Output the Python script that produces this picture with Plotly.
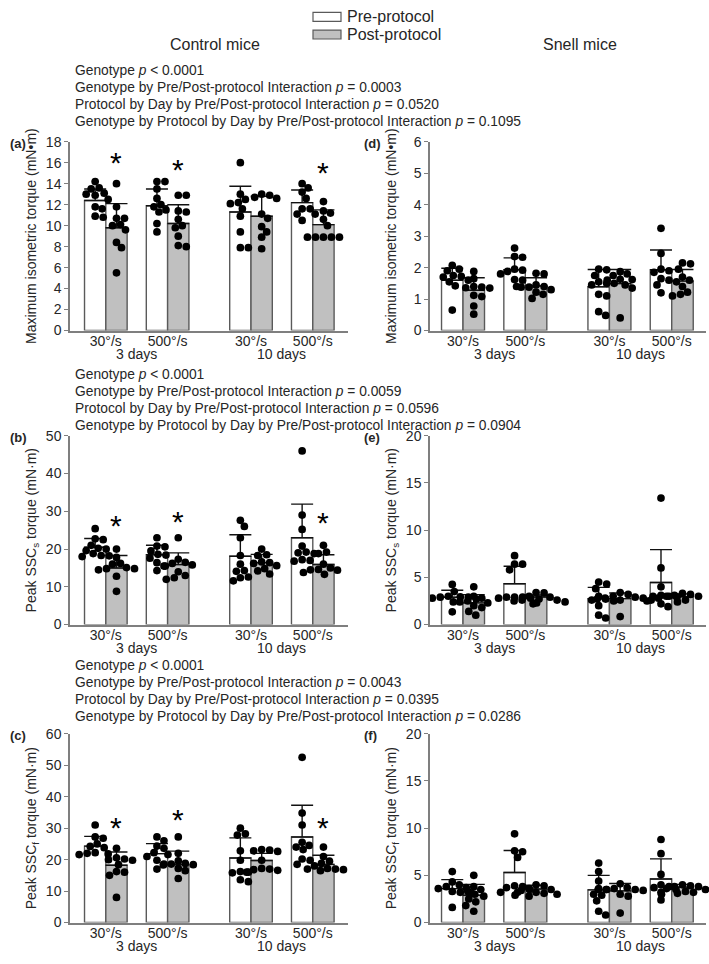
import plotly.graph_objects as go

W, H = 709, 964
FONT = "Liberation Sans, Arial, sans-serif"
TXT = "#262626"
AXC = "#7f7f7f"
EDGE = "#5a5a5a"
GREY = "#c0c0c0"

# ---------------- categories ----------------
positions = [1.0, 2.0, 3.35, 4.35]
speed_labels = ["30°/s", "500°/s", "30°/s", "500°/s"]
day_labels = ["3 days", "10 days"]
day_centers = [1.5, 3.85]
legend_labels = ["Pre-protocol", "Post-protocol"]
column_titles = ["Control mice", "Snell mice"]

# ---------------- panel (a) Control, max isometric torque ----------------
a_pre_mean = [12.4, 11.9, 11.3, 12.2]
a_pre_sd = [1.1, 1.6, 2.45, 1.2]
a_post_mean = [9.8, 10.2, 10.9, 10.1]
a_post_sd = [2.3, 1.8, 1.9, 1.4]
a_pre_pts = [[14.2, 13.6, 13.5, 13.1, 13.0, 12.9, 12.5, 11.8, 11.6, 10.9, 10.8],
             [14.2, 14.2, 13.5, 12.6, 12.0, 11.8, 11.5, 11.3, 10.2, 9.4],
             [16.0, 13.0, 12.5, 12.2, 12.1, 11.6, 10.9, 9.4, 7.9, 7.9],
             [14.0, 13.6, 13.2, 12.6, 11.6, 11.6, 11.1, 11.1, 10.5]]
a_post_pts = [[14.0, 11.8, 10.7, 10.7, 10.1, 10.0, 9.6, 8.4, 7.9, 5.5],
              [12.9, 12.9, 11.4, 11.3, 10.6, 10.0, 9.8, 9.0, 8.1, 8.0],
              [13.0, 12.9, 12.7, 12.6, 11.1, 10.7, 9.9, 9.4, 8.9, 7.8],
              [12.3, 11.4, 11.2, 10.6, 10.0, 8.9, 8.9, 8.9, 8.9, 8.9]]
a_star = [16.3, 15.6, None, 15.4]

# ---------------- panel (d) Snell, max isometric torque ----------------
d_pre_mean = [1.6, 1.93, 1.39, 1.93]
d_pre_sd = [0.38, 0.38, 0.55, 0.63]
d_post_mean = [1.28, 1.42, 1.49, 1.57]
d_post_sd = [0.4, 0.26, 0.45, 0.37]
d_pre_pts = [[2.07, 1.95, 1.9, 1.75, 1.72, 1.7, 1.6, 1.55, 1.42, 0.65],
             [2.62, 2.35, 2.33, 1.95, 1.92, 1.88, 1.8, 1.62, 1.6, 1.4],
             [1.95, 1.93, 1.75, 1.55, 1.5, 1.45, 1.15, 1.1, 0.6, 0.48],
             [3.25, 2.45, 1.95, 1.9, 1.85, 1.65, 1.6, 1.45, 1.2]]
d_post_pts = [[1.88, 1.65, 1.4, 1.38, 1.36, 1.35, 1.12, 1.08, 0.78, 0.52],
              [1.82, 1.8, 1.45, 1.4, 1.38, 1.38, 1.3, 1.22, 1.15, 1.02],
              [1.87, 1.8, 1.75, 1.63, 1.62, 1.6, 1.5, 1.45, 1.35, 0.4],
              [2.15, 2.12, 1.95, 1.7, 1.6, 1.55, 1.4, 1.22, 1.15, 1.1]]
d_star = [None, None, None, None]

# ---------------- panel (b) Control, peak SSCs torque ----------------
b_pre_mean = [20.5, 18.5, 18.1, 23.0]
b_pre_sd = [2.3, 2.5, 5.7, 8.9]
b_post_mean = [15.0, 15.9, 16.4, 15.9]
b_post_sd = [3.3, 3.1, 2.2, 2.6]
b_pre_pts = [[25.4, 22.7, 22.5, 21.0, 20.2, 20.0, 19.6, 18.8, 18.3, 18.2, 18.0],
             [23.0, 20.8, 20.6, 19.5, 18.6, 18.4, 17.6, 16.4, 15.5, 14.3],
             [27.6, 26.0, 23.0, 18.3, 16.0, 14.3, 14.1, 12.6, 12.4, 11.6],
             [46.0, 29.0, 25.2, 20.8, 19.2, 19.0, 18.8, 17.2, 17.0, 16.8]]
b_post_pts = [[20.0, 17.8, 16.2, 16.0, 15.1, 14.8, 14.8, 14.5, 12.8, 8.8],
              [23.0, 17.3, 16.5, 16.2, 15.8, 15.5, 14.0, 13.0, 12.4, 12.0],
              [20.0, 18.5, 18.3, 16.6, 16.4, 16.2, 15.6, 14.8, 14.2, 13.4],
              [21.0, 19.2, 18.8, 16.0, 15.0, 14.6, 14.5, 14.4, 13.8, 13.3]]
b_star = [27.0, 28.1, None, 27.9]

# ---------------- panel (e) Snell, peak SSCs torque ----------------
e_pre_mean = [2.9, 4.32, 2.73, 4.46]
e_pre_sd = [0.73, 1.86, 1.21, 3.48]
e_post_mean = [2.3, 2.93, 2.75, 2.95]
e_post_sd = [0.87, 0.2, 0.6, 0.3]
e_pre_pts = [[4.25, 3.5, 3.0, 2.95, 2.9, 2.9, 2.8, 2.7, 2.4, 1.35],
             [7.3, 6.4, 6.4, 5.8, 2.9, 2.9, 2.9, 2.8, 2.8, 2.3],
             [4.5, 4.3, 3.8, 3.0, 2.7, 2.6, 2.5, 2.0, 1.0, 0.7],
             [13.4, 6.0, 4.0, 3.1, 3.0, 3.0, 2.9, 2.5, 2.2, 1.9]]
e_post_pts = [[4.0, 3.0, 2.8, 2.5, 2.4, 2.3, 2.0, 1.8, 1.4, 1.0],
              [3.4, 3.35, 3.0, 2.9, 2.7, 2.6, 2.6, 2.5, 2.4, 2.2],
              [3.4, 3.2, 3.0, 2.9, 2.8, 2.8, 2.7, 2.6, 2.6, 0.85],
              [3.3, 3.2, 3.1, 3.0, 3.0, 2.9, 2.8, 2.6, 2.5, 2.4]]
e_star = [None, None, None, None]

# ---------------- panel (c) Control, peak SSCf torque ----------------
c_pre_mean = [24.3, 21.9, 20.5, 27.2]
c_pre_sd = [3.1, 3.2, 6.4, 10.1]
c_post_mean = [18.2, 18.4, 19.7, 18.5]
c_post_sd = [4.2, 4.3, 2.3, 2.9]
c_pre_pts = [[31.0, 27.2, 26.8, 25.0, 24.2, 23.8, 22.2, 22.0, 21.8, 21.6],
             [27.2, 26.0, 24.3, 23.6, 22.2, 21.6, 21.0, 19.8, 18.6, 17.0],
             [30.0, 28.2, 27.8, 22.8, 19.8, 16.2, 16.0, 15.8, 13.6, 13.0],
             [52.5, 34.8, 31.0, 25.5, 24.5, 24.0, 23.2, 20.2, 19.8, 18.5]]
c_post_pts = [[23.6, 20.6, 20.2, 20.0, 19.8, 18.4, 16.2, 16.0, 15.0, 8.0],
              [27.2, 22.0, 19.6, 18.8, 18.6, 18.4, 18.3, 17.2, 16.5, 14.0],
              [23.2, 23.0, 22.8, 22.6, 19.8, 17.2, 17.0, 16.8, 16.6, 16.0],
              [24.0, 21.0, 19.5, 18.8, 18.0, 17.2, 17.0, 17.0, 16.8, 16.5]]
c_star = [31.3, 33.6, None, 31.3]

# ---------------- panel (f) Snell, peak SSCf torque ----------------
f_pre_mean = [3.6, 5.3, 3.46, 4.62]
f_pre_sd = [0.95, 2.33, 1.54, 2.13]
f_post_mean = [2.9, 3.55, 3.36, 3.75]
f_post_sd = [1.14, 0.4, 0.78, 0.3]
f_pre_pts = [[5.4, 4.3, 4.0, 3.8, 3.7, 3.6, 3.3, 3.2, 3.1, 1.6],
             [9.4, 7.6, 7.5, 6.9, 3.9, 3.8, 3.7, 3.5, 3.2, 3.2],
             [6.3, 5.4, 4.4, 3.6, 3.5, 3.0, 2.9, 2.3, 1.2, 0.8],
             [8.8, 7.3, 5.1, 4.0, 3.8, 3.7, 3.5, 3.2, 2.4]]
f_post_pts = [[5.0, 3.8, 3.5, 3.3, 3.0, 2.8, 2.5, 2.2, 1.8, 1.2],
              [4.0, 3.9, 3.6, 3.5, 3.4, 3.2, 3.1, 3.0, 2.9, 2.8],
              [4.1, 3.7, 3.6, 3.5, 3.5, 3.5, 3.4, 3.0, 2.8, 1.0],
              [4.0, 3.9, 3.8, 3.8, 3.6, 3.5, 3.3, 3.2, 3.1, 3.0]]
f_star = [None, None, None, None]

y_titles = {
    "a": "Maximum isometric torque (mN•m)",
    "d": "Maximum isometric torque (mN•m)",
    "b": "Peak SSC<sub>s</sub> torque (mN·m)",
    "e": "Peak SSC<sub>s</sub> torque (mN·m)",
    "c": "Peak SSC<sub>f</sub> torque (mN·m)",
    "f": "Peak SSC<sub>f</sub> torque (mN·m)",
}
y_max = {"a": 18, "d": 6, "b": 50, "e": 20, "c": 60, "f": 20}
y_dtick = {"a": 2, "d": 1, "b": 10, "e": 5, "c": 10, "f": 5}

stats_1 = ["Genotype <i>p</i> &lt; 0.0001",
           "Genotype by Pre/Post-protocol Interaction <i>p</i> = 0.0003",
           "Protocol by Day by Pre/Post-protocol Interaction <i>p</i> = 0.0520",
           "Genotype by Protocol by Day by Pre/Post-protocol Interaction <i>p</i> = 0.1095"]
stats_2 = ["Genotype <i>p</i> &lt; 0.0001",
           "Genotype by Pre/Post-protocol Interaction <i>p</i> = 0.0059",
           "Protocol by Day by Pre/Post-protocol Interaction <i>p</i> = 0.0596",
           "Genotype by Protocol by Day by Pre/Post-protocol Interaction <i>p</i> = 0.0904"]
stats_3 = ["Genotype <i>p</i> &lt; 0.0001",
           "Genotype by Pre/Post-protocol Interaction <i>p</i> = 0.0043",
           "Protocol by Day by Pre/Post-protocol Interaction <i>p</i> = 0.0395",
           "Genotype by Protocol by Day by Pre/Post-protocol Interaction <i>p</i> = 0.0286"]

panels = {
    "a": (a_pre_mean, a_pre_sd, a_post_mean, a_post_sd, a_pre_pts, a_post_pts, a_star),
    "d": (d_pre_mean, d_pre_sd, d_post_mean, d_post_sd, d_pre_pts, d_post_pts, d_star),
    "b": (b_pre_mean, b_pre_sd, b_post_mean, b_post_sd, b_pre_pts, b_post_pts, b_star),
    "e": (e_pre_mean, e_pre_sd, e_post_mean, e_post_sd, e_pre_pts, e_post_pts, e_star),
    "c": (c_pre_mean, c_pre_sd, c_post_mean, c_post_sd, c_pre_pts, c_post_pts, c_star),
    "f": (f_pre_mean, f_pre_sd, f_post_mean, f_post_sd, f_pre_pts, f_post_pts, f_star),
}

# ---------------- layout geometry (window pixels) ----------------
col_px = {"L": (70, 348), "R": (430, 706)}
col_range = {"L": (0.42, 4.92), "R": (0.47, 4.90)}
row_px = [(136, 328), (435, 627), (738, 930)]
panel_grid = {"a": ("L", 0), "d": ("R", 0), "b": ("L", 1), "e": ("R", 1), "c": ("L", 2), "f": ("R", 2)}
stats_rows = [(stats_1, 64), (stats_2, 373), (stats_3, 669)]
BW = 0.345


def px_x(p):
    return p / W


def px_y(p):
    return 1 - p / H


def swarm(values, xppu, yppu, dot=7.3, step=1.0):
    order = sorted(range(len(values)), key=lambda i: -values[i])
    placed = []
    offs = [0.0] * len(values)
    for i in order:
        y = values[i] * yppu
        k = 0
        found = None
        while found is None:
            cands = [0.0] if k == 0 else [k * step, -k * step]
            for c in cands:
                if all((c - px) ** 2 + (y - py) ** 2 >= dot ** 2 for px, py in placed):
                    found = c
                    break
            k += 1
        placed.append((found, y))
        offs[i] = found / xppu
    return offs


fig = go.Figure()
layout_axes = {}
annotations = []

for idx, key in enumerate(["a", "d", "b", "e", "c", "f"]):
    n = idx + 1
    xa = "x" if n == 1 else f"x{n}"
    ya = "y" if n == 1 else f"y{n}"
    col, row = panel_grid[key]
    x0, x1 = col_px[col]
    ytop, ybot = row_px[row]
    r0, r1 = col_range[col]
    xppu = (x1 - x0) / (r1 - r0)
    yppu = (ybot - ytop) / y_max[key]
    pre_m, pre_s, post_m, post_s, pre_p, post_p, star = panels[key]

    fig.add_trace(go.Bar(
        x=[p - BW / 2 for p in positions], y=pre_m, width=BW,
        marker=dict(color="white", line=dict(color=EDGE, width=1.4)),
        error_y=dict(type="data", array=pre_s, arrayminus=[0] * 4, symmetric=False,
                     color="#111111", thickness=1.4, width=11),
        xaxis=xa, yaxis=ya, showlegend=False, name=legend_labels[0]))
    fig.add_trace(go.Bar(
        x=[p + BW / 2 for p in positions], y=post_m, width=BW,
        marker=dict(color=GREY, line=dict(color=EDGE, width=1.4)),
        error_y=dict(type="data", array=post_s, arrayminus=[0] * 4, symmetric=False,
                     color="#111111", thickness=1.4, width=11),
        xaxis=xa, yaxis=ya, showlegend=False, name=legend_labels[1]))

    dx, dy = [], []
    for g, p in enumerate(positions):
        for vals, sign in ((pre_p[g], -1), (post_p[g], 1)):
            offs = swarm(vals, xppu, yppu)
            for v, o in zip(vals, offs):
                dx.append(p + sign * BW / 2 + o)
                dy.append(v)
    fig.add_trace(go.Scatter(x=dx, y=dy, mode="markers", xaxis=xa, yaxis=ya,
                             marker=dict(color="black", size=7.7, line=dict(width=0)),
                             showlegend=False, cliponaxis=False))

    for g, p in enumerate(positions):
        if star[g] is not None:
            annotations.append(dict(x=p + BW / 2, y=star[g], xref=xa, yref=ya, text="*",
                                    showarrow=False, yshift=-3,
                                    font=dict(family=FONT, size=30, color="black")))

    for dc, dl in zip(day_centers, day_labels):
        annotations.append(dict(x=dc, xref=xa, y=px_y(ybot + 24), yref="paper", text=dl,
                                showarrow=False, yanchor="middle",
                                font=dict(family=FONT, size=14, color=TXT)))

    annotations.append(dict(x=px_x(8 if col == "L" else 362), xref="paper",
                            y=px_y(ytop + 2), yref="paper", text=f"<b>({key})</b>",
                            showarrow=False, xanchor="left", yanchor="middle",
                            font=dict(family=FONT, size=13, color=TXT)))

    layout_axes["xaxis" if n == 1 else f"xaxis{n}"] = dict(
        domain=[px_x(x0), px_x(x1)], range=[r0, r1], anchor=ya,
        showline=True, linecolor=AXC, linewidth=1.5, ticks="", showgrid=False,
        zeroline=False, tickvals=positions, ticktext=speed_labels, ticklabelstandoff=-3,
        tickfont=dict(family=FONT, size=14, color=TXT), fixedrange=True)
    layout_axes["yaxis" if n == 1 else f"yaxis{n}"] = dict(
        domain=[px_y(ybot), px_y(ytop)], range=[0, y_max[key]], anchor=xa,
        dtick=y_dtick[key], tick0=0, showline=True, linecolor=AXC, linewidth=1.5,
        ticks="outside", ticklen=4, tickcolor=AXC, tickwidth=1.2,
        showgrid=False, zeroline=False,
        tickfont=dict(family=FONT, size=14, color=TXT),
        title=dict(text=y_titles[key], font=dict(family=FONT, size=14, color=TXT),
                   standoff=14 if key == "d" else 6),
        fixedrange=True)

# statistics text blocks
for lines, y0 in stats_rows:
    for i, t in enumerate(lines):
        annotations.append(dict(x=px_x(73), y=px_y(y0 + i * 17.3), xref="paper", yref="paper",
                                text=t, showarrow=False, xanchor="left", yanchor="middle",
                                font=dict(family=FONT, size=13.8, color=TXT)))

# column titles
for t, cx in zip(column_titles, [215, 580]):
    annotations.append(dict(x=px_x(cx), y=px_y(37), xref="paper", yref="paper", text=t,
                            showarrow=False, xanchor="center", yanchor="middle",
                            font=dict(family=FONT, size=16, color=TXT)))

# legend
shapes = []
for i, (lab, fill) in enumerate(zip(legend_labels, ["white", GREY])):
    yc = 9 + i * 18
    shapes.append(dict(type="rect", xref="paper", yref="paper",
                       x0=px_x(313), x1=px_x(341), y0=px_y(yc - 4.5), y1=px_y(yc + 4.5),
                       fillcolor=fill, line=dict(color=EDGE, width=1.2)))
    annotations.append(dict(x=px_x(345), y=px_y(yc), xref="paper", yref="paper", text=lab,
                            showarrow=False, xanchor="left", yanchor="middle",
                            font=dict(family=FONT, size=16, color=TXT)))

fig.update_layout(width=W, height=H, margin=dict(l=0, r=0, t=0, b=0),
                  paper_bgcolor="white", plot_bgcolor="white", barmode="overlay",
                  showlegend=False, annotations=annotations, shapes=shapes,
                  font=dict(family=FONT, color=TXT), **layout_axes)

fig.write_html("out.html", config={"displayModeBar": False},
               post_script="document.body.style.margin='0';document.body.style.overflow='hidden';")
